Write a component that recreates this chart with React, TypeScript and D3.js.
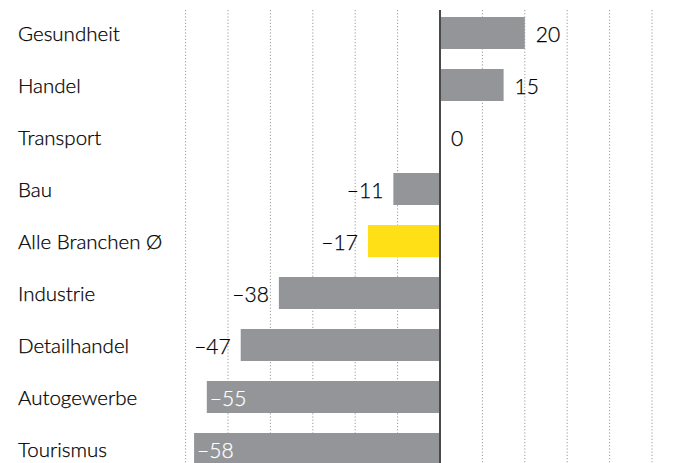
import React from "react";
import * as d3 from "d3";

const categories = ["Gesundheit", "Handel", "Transport", "Bau", "Alle Branchen Ø", "Industrie", "Detailhandel", "Autogewerbe", "Tourismus"];
const values = [20, 15, 0, -11, -17, -38, -47, -55, -58];
const highlight = ["Alle Branchen Ø"];
const gridTicks = [-60, -50, -40, -30, -20, -10, 10, 20, 30, 40, 50];

const W = 687;
const H = 463;
const FONT = "Lato, 'Open Sans', sans-serif";

export default function App() {
  const x = d3.scaleLinear().domain([-60, 50]).range([185.6, 652]);
  const y = d3.scaleBand<string>().domain(categories).range([-9, 491]).paddingInner(20 / 52).paddingOuter(0.5);
  const fmt = (v: number) => (v < 0 ? "\u2013" + Math.abs(v) : String(v));
  return (
    <svg width={W} height={H} style={{ position: "absolute", left: 0, top: 0, background: "#fff" }}>
      {gridTicks.map((t) => (
        <line key={t} x1={x(t)} x2={x(t)} y1={10} y2={H} stroke="#9a9a9a" strokeWidth={1} strokeDasharray="1.2 2" />
      ))}
      {categories.map((c, i) => {
        const v = values[i];
        const y0 = y(c)!;
        const bh = y.bandwidth();
        const x0 = Math.min(x(0), x(v));
        const w = Math.abs(x(v) - x(0));
        const inside = v <= -50;
        const cy = y0 + bh / 2;
        return (
          <g key={c}>
            <rect x={x0} y={y0} width={w} height={bh} fill={highlight.includes(c) ? "#FFE017" : "#939598"} />
            <text x={18} y={cy} dominantBaseline="central" fontFamily={FONT} fontWeight={300} fontSize={20.5} fill="#000" stroke="#000" strokeWidth={0.25}>{c}</text>
            <text
              x={inside ? x(v) + 3 : v >= 0 ? x(v) + 11 : x(v) - 10}
              y={cy}
              dominantBaseline="central"
              textAnchor={inside || v >= 0 ? "start" : "end"}
              fontFamily={FONT}
              fontWeight={300}
              fontSize={21}
              fill={inside ? "#ffffff" : "#000"}
              stroke={inside ? "#ffffff" : "#000"}
              strokeWidth={0.25}
            >
              {fmt(v)}
            </text>
          </g>
        );
      })}
      <line x1={x(0)} x2={x(0)} y1={10} y2={H} stroke="#4a4a4a" strokeWidth={2} />
    </svg>
  );
}
